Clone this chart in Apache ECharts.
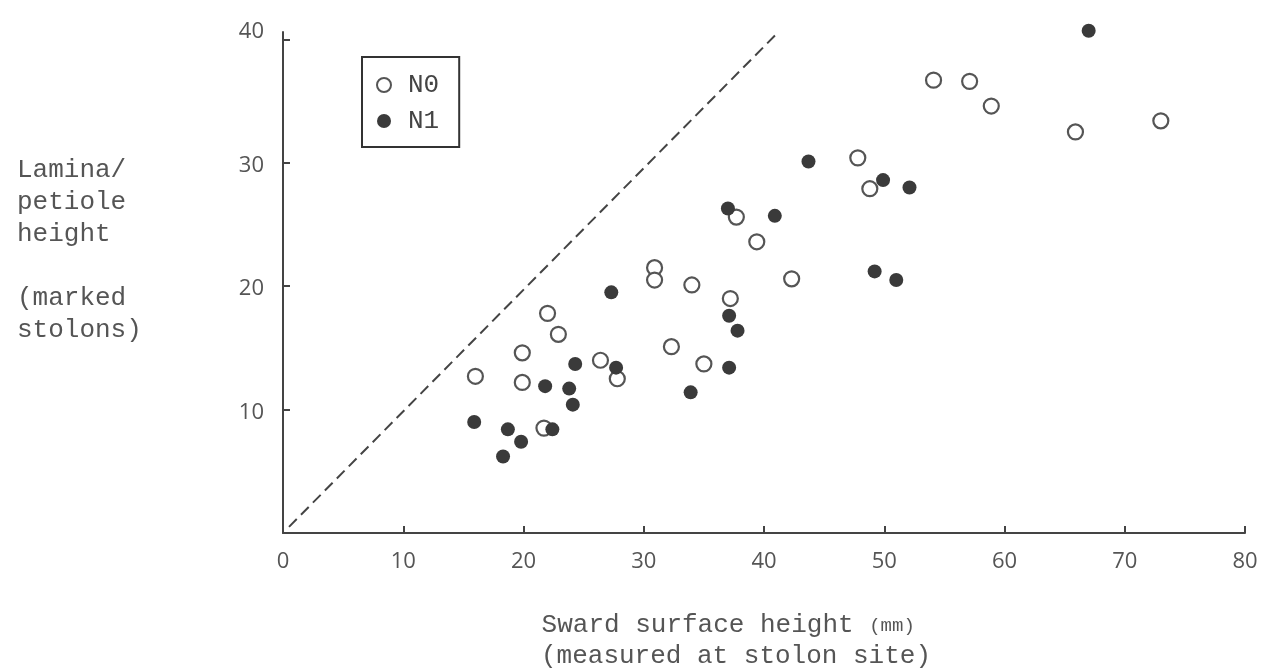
<!DOCTYPE html>
<html>
<head>
<meta charset="utf-8">
<script src="https://cdn.jsdelivr.net/npm/echarts@6/dist/echarts.min.js"></script>
<style>
html, body { margin: 0; padding: 0; background: #fff; }
#chart { width: 1267px; height: 669px; }
</style>
</head>
<body>
<div id="chart"></div>
<script>
// axis ticks / labels
var xTicks = [10, 20, 30, 40, 50, 60, 70, 80];
var xLabels = [0, 10, 20, 30, 40, 50, 60, 70, 80];
var yTicks = [10, 20, 30, 40];

// N0 - open circles [sward height, lamina height]
var n0 = [
    [16.0, 12.7], [19.9, 14.6], [19.9, 12.2], [22.0, 17.8], [22.9, 16.1],
    [21.7, 8.5], [26.4, 14.0], [27.8, 12.5], [30.9, 21.5], [30.9, 20.5],
    [32.3, 15.1], [34.0, 20.1], [35.0, 13.7], [37.2, 19.0], [37.7, 25.6],
    [39.4, 23.6], [42.3, 20.6], [47.8, 30.4], [48.8, 27.9], [54.1, 36.7],
    [57.1, 36.6], [58.9, 34.6], [65.9, 32.5], [73.0, 33.4]
];

// N1 - filled circles
var n1 = [
    [15.9, 9.0], [18.7, 8.4], [19.8, 7.4], [18.3, 6.2], [21.8, 11.9],
    [22.4, 8.4], [23.8, 11.7], [24.3, 13.7], [24.1, 10.4], [27.3, 19.5],
    [27.7, 13.4], [33.9, 11.4], [37.0, 26.3], [40.9, 25.7], [37.1, 17.6],
    [37.8, 16.4], [37.1, 13.4], [43.7, 30.1], [49.9, 28.6], [52.1, 28.0],
    [49.2, 21.2], [51.0, 20.5], [67.0, 40.7]
];

// dashed 1:1 line
var guide = [[0.5, 0.5], [41.2, 40.6]];

var mono = '"Liberation Mono", "DejaVu Sans Mono", monospace';
var chart = echarts.init(document.getElementById('chart'));

var option = {
    animation: false,
    grid: { left: 283, right: 22, top: 32, bottom: 136, containLabel: false, outerBoundsMode: 'none' },
    legend: {
        left: 362,
        top: 57,
        orient: 'vertical',
        borderColor: '#333',
        borderWidth: 2,
        padding: [15, 20, 13, 14],
        itemWidth: 14,
        itemHeight: 14,
        itemGap: 10,
        textStyle: { fontFamily: mono, fontSize: 26, color: '#444', padding: [0, 0, 0, 12] },
        data: [
            { name: 'N0', icon: 'circle', itemStyle: { color: '#fff', borderColor: '#555', borderWidth: 2 } },
            { name: 'N1', icon: 'circle', itemStyle: { color: '#3a3a3a', borderWidth: 0 } }
        ]
    },
    xAxis: {
        type: 'value',
        min: 0,
        max: 80,
        interval: 10,
        name: 'Sward surface height {s|(mm)} \n(measured at stolon site)',
        nameLocation: 'middle',
        nameGap: 77,
        nameTextStyle: {
            fontFamily: mono, fontSize: 26, color: '#555', lineHeight: 31,
            padding: [0, 56, 0, 0],
            rich: { s: { fontFamily: mono, fontSize: 19, color: '#555' } }
        },
        axisLine: { lineStyle: { color: '#444', width: 2 } },
        axisTick: { inside: true, length: 7, customValues: xTicks, lineStyle: { color: '#444', width: 2 } },
        axisLabel: { customValues: xLabels, margin: 18, color: '#555', fontFamily: '"Open Sans"', fontSize: 22 },
        splitLine: { show: false }
    },
    yAxis: {
        type: 'value',
        min: 0,
        max: 40.6,
        // trailing blank lines lift the block to sit beside the upper half of the axis
        name: 'Lamina/\npetiole\nheight\n\n(marked\nstolons)\n\n',
        nameLocation: 'middle',
        nameRotate: 0,
        nameGap: 266,
        nameTextStyle: {
            fontFamily: mono, fontSize: 26, color: '#555', lineHeight: 32,
            align: 'left', verticalAlign: 'middle'
        },
        axisLine: { lineStyle: { color: '#444', width: 2 } },
        axisTick: { inside: true, length: 7, customValues: yTicks, lineStyle: { color: '#444', width: 2 } },
        axisLabel: {
            customValues: yTicks, margin: 19, color: '#555', fontFamily: '"Open Sans"', fontSize: 22,
            padding: [6, 0, 0, 0],
            formatter: function (v) { return v === 40 ? '{up|40}' : String(v); },
            rich: { up: { color: '#555', fontFamily: '"Open Sans"', fontSize: 22, padding: [0, 0, 22, 0] } }
        },
        splitLine: { show: false }
    },
    series: [
        {
            name: 'guide',
            type: 'line',
            data: guide,
            showSymbol: false,
            silent: true,
            clip: false,
            lineStyle: { color: '#444', width: 2, type: [11, 6] }
        },
        {
            name: 'N0',
            type: 'scatter',
            data: n0,
            symbol: 'circle',
            symbolSize: 15,
            clip: false,
            itemStyle: { color: '#fff', borderColor: '#555', borderWidth: 2.2, opacity: 1 }
        },
        {
            name: 'N1',
            type: 'scatter',
            data: n1,
            symbol: 'circle',
            symbolSize: 14,
            clip: false,
            itemStyle: { color: '#3a3a3a', opacity: 1 }
        }
    ]
};

chart.setOption(option);
</script>
</body>
</html>
